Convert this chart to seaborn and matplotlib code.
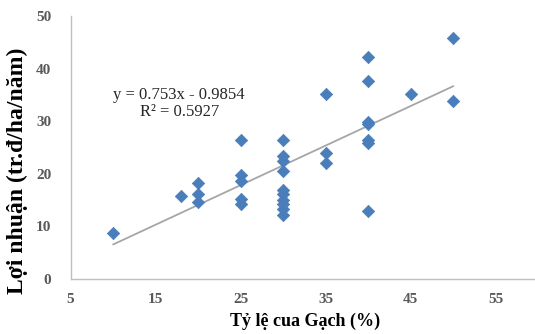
import numpy as np
import pandas as pd
import matplotlib
matplotlib.use('Agg')
import matplotlib.pyplot as plt
import seaborn as sns

# ── data ──────────────────────────────────────────────────────────
ty_le = [10, 18, 20, 20, 20,
         25, 25, 25, 25, 25,
         30, 30, 30, 30, 30, 30, 30, 30, 30, 30,
         35, 35, 35,
         40, 40, 40, 40, 40, 40, 40,
         45, 50, 50]
loi_nhuan = [8.8, 15.8, 18.2, 16.2, 14.7,
             26.4, 19.7, 18.6, 15.2, 14.2,
             26.4, 23.3, 22.4, 20.5, 17.0, 16.1, 15.1, 14.2, 13.2, 12.2,
             35.2, 24.0, 22.0,
             42.2, 37.6, 29.9, 29.4, 26.5, 25.9, 12.9,
             35.2, 45.8, 33.8]
slope, intercept = 0.753, -0.9854
r2 = 0.5927

x_ticks = [5, 15, 25, 35, 45, 55]
y_ticks = [0, 10, 20, 30, 40, 50]

df = pd.DataFrame({'x': ty_le, 'y': loi_nhuan})

# ── style ─────────────────────────────────────────────────────────
sns.set_style('white')
plt.rcParams['font.family'] = ['Liberation Serif', 'DejaVu Serif']

fig = plt.figure(figsize=(5.35, 3.34), dpi=100)
ax = fig.add_axes([0.132, 0.165, 0.868, 0.787])

# trend line
x_line = np.linspace(min(ty_le), max(ty_le), 50)
sns.lineplot(x=x_line, y=slope * x_line + intercept, ax=ax,
             color='#a6a6a6', linewidth=1.3, zorder=2)

sns.scatterplot(data=df, x='x', y='y', ax=ax, marker='D', s=40,
                color='#4a7ebb', edgecolor='#4a7ebb', linewidth=0.5,
                zorder=3)

ax.set_xlim(5, 59.6)
ax.set_ylim(0, 50)
ax.set_xticks(x_ticks)
ax.set_yticks(y_ticks)

for side in ['top', 'right']:
    ax.spines[side].set_visible(False)
for side in ['left', 'bottom']:
    ax.spines[side].set_color('#bfbfbf')
    ax.spines[side].set_linewidth(1.0)

ax.tick_params(axis='both', direction='out', length=4, width=1,
               color='#bfbfbf', labelsize=11, labelcolor='#595959')
ax.tick_params(axis='x', pad=6)
ax.tick_params(axis='y', pad=10)
for lbl in ax.get_xticklabels() + ax.get_yticklabels():
    lbl.set_fontweight('bold')

ax.set_xlabel('Tỷ lệ cua Gạch (%)', fontsize=13, fontweight='bold',
              color='black', va='center')
ax.xaxis.set_label_coords(0.505, -0.16)
ax.set_ylabel('Lợi nhuận (tr.đ/ha/năm)', fontsize=17, fontweight='bold',
              color='black', va='center')
ax.yaxis.set_label_coords(-0.114, 0.41)

ax.text(0.233, 0.70, f'y = {slope}x - {abs(intercept)}',
        transform=ax.transAxes, fontsize=12, color='#262626',
        ha='center', va='center')
ax.text(0.235, 0.635, f'R² = {r2}',
        transform=ax.transAxes, fontsize=12, color='#262626',
        ha='center', va='center')

fig.savefig('out.png', dpi=100)
